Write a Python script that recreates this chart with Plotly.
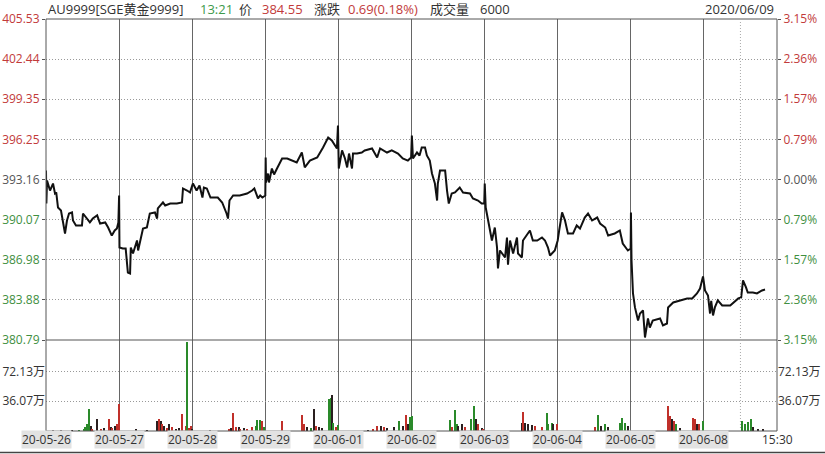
import plotly.graph_objects as go

# ---------------- data ----------------
dates = ["20-05-26", "20-05-27", "20-05-28", "20-05-29", "20-06-01",
         "20-06-02", "20-06-03", "20-06-04", "20-06-05", "20-06-08"]
close_label = "15:30"

price_ticks = [380.79, 383.88, 386.98, 390.07, 393.16, 396.25, 399.35, 402.44, 405.53]
pct_labels = ["3.15%", "2.36%", "1.57%", "0.79%", "0.00%", "0.79%", "1.57%", "2.36%", "3.15%"]
vol_ticks = [36.07, 72.13]
vol_labels = ["36.07万", "72.13万"]

# session time: 100 units per trading day
t_d1 = [0, 0.5, 1.4, 5.5, 9.6, 12.3, 14, 16.4, 20.5, 23.3, 26, 28.7, 31.5, 35.6, 36.9, 41, 49.2, 50.6,
        56, 60, 64, 70, 74, 81, 85, 90, 94, 97, 99, 100]
p_d1 = [393.85, 391.31, 393.08, 392.31, 392.85, 392.08, 392.16, 391.00, 390.77, 390.00, 389.00, 390.00,
        390.54, 390.62, 390.00, 389.62, 389.62, 390.54, 390.15, 389.85, 390.15, 390.39, 389.77, 389.85,
        389.46, 388.84, 389.23, 389.38, 389.85, 391.93]
t_d2 = [100.5, 105, 109, 111, 112, 115, 116, 119, 124.5, 126, 128.6, 132.7, 138, 142, 149, 152, 153,
        160, 163, 170, 174, 179, 186, 187.4, 193, 197, 200]
p_d2 = [387.92, 387.84, 387.84, 386.92, 385.99, 385.92, 387.92, 387.46, 388.46, 387.69, 388.46, 389.38,
        389.46, 390.54, 390.62, 390.15, 390.93, 391.39, 391.16, 391.31, 391.31, 391.31, 391.39, 392.47,
        392.31, 392.16, 392.70]
t_d3 = [201, 206, 210, 214, 216, 220, 225, 235, 241, 247, 249, 251, 256, 265, 275, 282, 285, 290, 293, 296, 300]
p_d3 = [392.85, 392.31, 392.70, 391.77, 392.54, 392.47, 391.77, 391.77, 391.39, 390.54, 390.15, 391.54,
        391.93, 391.93, 392.08, 392.31, 392.47, 391.70, 391.93, 391.77, 391.93]
t_d4 = [300.5, 301, 303.7, 305, 309, 312, 316, 320, 323, 330, 343, 350, 354, 361, 371, 379, 386, 391, 398, 399.4]
p_d4 = [394.86, 392.93, 393.62, 392.93, 394.01, 393.55, 394.01, 394.39, 394.78, 394.78, 394.47, 395.24,
        394.09, 394.62, 394.86, 395.63, 396.40, 396.17, 395.55, 397.32]
t_d5 = [400.5, 405, 409, 412, 414.5, 418.6, 420, 425.5, 432, 436, 446, 453, 457, 466.5, 473, 481.5, 488,
        495, 499.5, 500.5]
p_d5 = [394.01, 395.40, 394.78, 394.09, 395.16, 394.01, 395.16, 395.16, 395.24, 395.40, 395.55, 394.86,
        395.55, 395.24, 395.40, 395.16, 394.78, 394.62, 394.86, 396.55]
t_d6 = [502, 507.5, 511, 514, 518.5, 521, 525, 528, 532, 535, 536, 539, 546, 548.6, 551, 555, 559.5, 566,
        570.5, 580, 584, 591, 596, 599.5, 600.2]
p_d6 = [394.78, 395.24, 395.01, 395.63, 395.63, 395.01, 394.62, 393.62, 392.85, 391.54, 392.85, 393.85,
        393.85, 392.31, 391.31, 392.08, 392.16, 392.54, 392.16, 392.08, 391.70, 391.54, 391.31, 391.31, 392.85]
t_d7 = [601.5, 604.7, 608, 610, 614, 617, 618.3, 621, 628, 630.6, 632, 634.8, 639, 644.3, 645.7, 651,
        652.5, 662, 666, 672, 678.5, 682.6, 686.7, 689.5, 696, 700]
p_d7 = [391.00, 390.00, 389.20, 388.46, 389.46, 387.92, 386.30, 387.69, 387.15, 388.69, 386.60, 388.46,
        387.46, 388.69, 387.46, 387.15, 388.46, 389.23, 388.46, 388.46, 388.69, 388.46, 387.92, 387.30,
        387.69, 388.46]
t_d8 = [702, 706, 710, 714, 721, 726, 730.5, 737, 741.5, 747, 754, 758, 765, 769, 778, 785, 789, 796, 799.8, 800.2]
p_d8 = [389.23, 390.62, 390.00, 389.00, 389.00, 389.62, 389.38, 390.23, 390.54, 390.00, 390.23, 389.77,
        389.46, 388.84, 389.00, 389.23, 388.23, 387.69, 387.84, 390.62]
t_d9 = [801, 803, 805.7, 808, 809.9, 812.6, 816.7, 819.4, 822, 823.5, 826, 830, 840, 844, 849.5, 851, 858,
        867, 877, 884, 890.5, 894.7, 898.8]
p_d9 = [386.92, 384.38, 383.30, 382.60, 382.29, 382.83, 383.07, 380.98, 382.06, 382.45, 381.75, 382.29,
        382.45, 381.91, 382.06, 383.30, 383.68, 383.84, 383.99, 383.99, 384.38, 384.76, 385.69]
t_d10 = [901.5, 905.6, 908.4, 910, 912.5, 915, 919, 925, 936, 947, 951, 953.5, 957.6, 960, 967, 972.6,
         979.5, 983.6]
p_d10 = [384.61, 384.22, 382.83, 383.80, 382.68, 383.30, 383.84, 383.45, 383.45, 383.99, 384.07, 385.38,
         384.84, 384.45, 384.45, 384.38, 384.61, 384.68]

# volume bars (万), time, colour code r/g/k
vol_t = [10, 20, 35, 45, 52, 54, 56.5, 58.8, 61, 63, 70, 74.8, 79, 86, 88.5, 91, 94, 96.7, 99.5,
         122.7, 138.6, 152.3, 154.6, 157, 159, 161.4, 166, 168.3, 172.8, 177.4, 182, 186.5, 191, 193.3, 196, 198, 200,
         225, 250, 253.5, 256, 260, 264, 266, 271, 274.5, 282, 287, 289, 292.8, 295, 298,
         323, 350.6, 353, 357.5, 362, 366.6, 369, 373.5, 378, 387, 389.5, 390.8, 393, 397, 399,
         440, 447, 453, 458, 462, 467, 476, 483, 488, 492, 495, 498, 500.5,
         552.7, 555, 559.5, 562, 564, 568.6, 573, 582, 585.5, 589, 591.4, 596, 598,
         650.7, 653, 655, 660, 664.6, 669, 678, 685, 687, 691.8, 694, 698.6,
         751, 755.6, 760, 764.7, 769, 785, 787.5, 792, 796.5,
         851.3, 853.6, 856, 859, 862.6, 867, 885.5, 888, 890, 894, 898.3,
         951.7, 956, 960.8, 964, 967.6, 974, 981]
vol_v = [1, 0.8, 0.6, 1, 3, 5, 8, 26, 6, 3, 14, 3, 4, 15, 5, 4, 6, 9, 33,
         3, 1, 12, 14, 12, 8, 6, 4, 9, 5, 2, 4, 21, 6, 107, 4, 6, 3,
         1, 3, 4, 22, 5, 5, 3, 4, 2, 5, 6, 13, 13, 12, 5,
         12, 19, 8, 5, 4, 27, 6, 5, 4, 39, 40, 43, 10, 5, 7,
         1, 2, 6, 6, 5, 4, 5, 12, 6, 19, 9, 17, 18,
         13, 5, 25, 8, 6, 9, 5, 14, 30, 15, 8, 4, 3,
         10, 23, 10, 8, 7, 6, 5, 22, 8, 10, 8, 9,
         5, 19, 6, 8, 5, 10, 16, 10, 6,
         30, 18, 14, 12, 8, 4, 16, 14, 8, 8, 12,
         12, 8, 11, 14, 5, 3, 2]
vol_c = ["k", "k", "k", "g", "g", "g", "g", "g", "k", "r", "k", "r", "k", "r", "k", "r", "k", "r", "r",
         "k", "k", "k", "r", "k", "r", "k", "r", "k", "r", "k", "k", "r", "r", "g", "r", "r", "k",
         "k", "r", "k", "r", "r", "k", "r", "k", "r", "r", "g", "g", "g", "r", "g",
         "r", "r", "r", "k", "g", "k", "r", "k", "k", "g", "g", "k", "g", "r", "g",
         "k", "r", "r", "k", "r", "k", "k", "g", "k", "r", "k", "g", "g",
         "g", "r", "g", "g", "k", "k", "r", "g", "g", "k", "r", "k", "r",
         "k", "r", "k", "k", "k", "r", "r", "g", "g", "g", "k", "r",
         "r", "g", "k", "g", "k", "g", "g", "g", "k",
         "r", "r", "k", "r", "g", "k", "r", "r", "k", "r", "g",
         "g", "g", "g", "g", "k", "k", "k"]

# ---------------- build ----------------
t_all = t_d1 + t_d2 + t_d3 + t_d4 + t_d5 + t_d6 + t_d7 + t_d8 + t_d9 + t_d10
p_all = p_d1 + p_d2 + p_d3 + p_d4 + p_d5 + p_d6 + p_d7 + p_d8 + p_d9 + p_d10

RED = "#c23a3a"
GREEN = "#3f8f3f"
GREY = "#555555"
cmap = {"r": "#c0302a", "g": "#2a8a2a", "k": "#2a1f1f"}

FONT = "Open Sans, Noto Sans CJK SC, sans-serif"
VOL_FRAC = 91 / 412
plot_l, plot_w = 46, 731
DOT = "1px,2px"


def tick_color(i):
    mid = len(price_ticks) // 2
    if i > mid:
        return RED
    if i < mid:
        return GREEN
    return GREY


left_text = ["<span style='color:%s'>%.2f</span>" % (tick_color(i), v) for i, v in enumerate(price_ticks)]
right_text = ["<span style='color:%s'>%s</span>" % (tick_color(i), s) for i, s in enumerate(pct_labels)]

fig = go.Figure()
fig.add_trace(go.Scatter(x=t_all, y=p_all, mode="lines", line=dict(color="#111111", width=2),
                         xaxis="x", yaxis="y", hoverinfo="skip", showlegend=False))
fig.add_trace(go.Scatter(x=t_all, y=p_all, mode="lines", line=dict(width=0), opacity=0,
                         xaxis="x", yaxis="y3", hoverinfo="skip", showlegend=False))
fig.add_trace(go.Bar(x=vol_t, y=vol_v, width=1.6,
                     marker=dict(color=[cmap[c] for c in vol_c], line=dict(width=0)),
                     xaxis="x", yaxis="y2", hoverinfo="skip", showlegend=False))
fig.add_trace(go.Scatter(x=vol_t, y=vol_v, mode="markers", opacity=0, marker=dict(size=1),
                         xaxis="x", yaxis="y4", hoverinfo="skip", showlegend=False))

tickfont = dict(family=FONT, size=12, color="#333333")
fig.update_layout(
    width=825, height=454,
    margin=dict(l=46, r=48, t=19, b=23, pad=0, autoexpand=False),
    paper_bgcolor="white", plot_bgcolor="white",
    showlegend=False, bargap=0,
    xaxis=dict(domain=[0, 1], range=[0, 1000], anchor="y2", automargin=False,
               tickvals=[i * 100 for i in range(len(dates) + 1)], showticklabels=False,
               showgrid=True, gridcolor="#666666", gridwidth=1, zeroline=False, showline=False, ticks=""),
    yaxis=dict(domain=[VOL_FRAC, 1], range=[price_ticks[0], price_ticks[-1]], anchor="x", automargin=False,
               tickvals=price_ticks, ticktext=left_text, tickfont=tickfont,
               showgrid=True, gridcolor="#999999", griddash=DOT, gridwidth=1,
               ticks="outside", ticklen=3, tickcolor=GREY, zeroline=False, showline=False),
    yaxis3=dict(overlaying="y", side="right", anchor="x", range=[price_ticks[0], price_ticks[-1]],
                automargin=False, tickvals=price_ticks, ticktext=right_text, tickfont=tickfont,
                showgrid=False, ticks="outside", ticklen=3, tickcolor=GREY, zeroline=False, showline=False),
    yaxis2=dict(domain=[0, VOL_FRAC], range=[0, 110], anchor="x", automargin=False,
                tickvals=vol_ticks, ticktext=vol_labels, tickfont=tickfont,
                showgrid=True, gridcolor="#999999", griddash=DOT, gridwidth=1,
                ticks="", zeroline=False, showline=False),
    yaxis4=dict(overlaying="y2", side="right", anchor="x", range=[0, 110], automargin=False,
                tickvals=vol_ticks, ticktext=vol_labels, tickfont=tickfont,
                showgrid=False, ticks="", zeroline=False, showline=False),
)

shapes = [
    dict(type="rect", xref="paper", yref="paper", x0=0, x1=1, y0=0, y1=1,
         line=dict(color=GREY, width=1)),
    dict(type="line", xref="paper", yref="paper", x0=0, x1=1, y0=VOL_FRAC, y1=VOL_FRAC,
         line=dict(color=GREY, width=1)),
    dict(type="line", xref="x", yref="paper", x0=950, x1=950, y0=0, y1=1,
         line=dict(color="#aaaaaa", width=1, dash=DOT)),
    dict(type="line", xref="paper", yref="paper", x0=-plot_l / plot_w, x1=(825 - plot_l) / plot_w,
         y0=-21.5 / 412, y1=-21.5 / 412, line=dict(color="#444444", width=1.5)),
]
fig.update_layout(shapes=shapes)

ann = []
for i, d in enumerate(dates):
    ann.append(dict(x=i * 100, xref="x", y=-8.7 / 412, yref="paper", text=d, showarrow=False,
                    xanchor="center", yanchor="middle", bgcolor="#e2e2e2", borderpad=0,
                    font=dict(family=FONT, size=12, color="#333333")))
ann.append(dict(x=1000, xref="x", y=-8.7 / 412, yref="paper", text=close_label, showarrow=False,
                xanchor="center", yanchor="middle", font=dict(family=FONT, size=12, color="#333333")))

header = [
    ("AU9999[SGE黄金9999]", 47, "#333333", "left"),
    ("13:21", 199, "#3d9a4a", "left"),
    ("价", 238, "#333333", "left"),
    ("384.55", 261, RED, "left"),
    ("涨跌", 313, "#333333", "left"),
    ("0.69(0.18%)", 347, RED, "left"),
    ("成交量", 429, "#333333", "left"),
    ("6000", 479, "#333333", "left"),
    ("2020/06/09", 775, "#333333", "right"),
]
for txt, px, col, anc in header:
    ann.append(dict(x=(px - plot_l) / plot_w, xref="paper", y=1 + 9.5 / 412, yref="paper", text=txt,
                    showarrow=False, xanchor=anc, yanchor="middle", borderpad=0,
                    font=dict(family=FONT, size=13, color=col)))
fig.update_layout(annotations=ann)

fig.write_html("out.html", config={"displayModeBar": False},
               post_script="document.body.style.margin='0';document.body.style.padding='0';")
